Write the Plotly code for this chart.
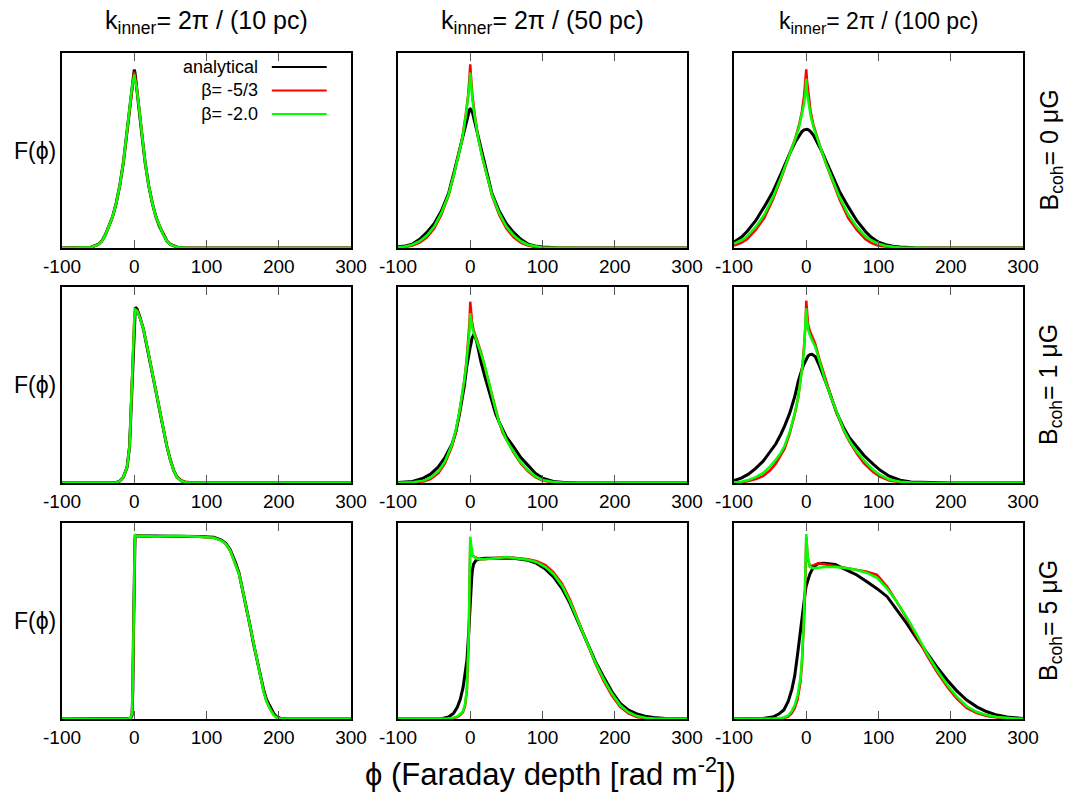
import plotly.graph_objects as go
from plotly.subplots import make_subplots

# Faraday-depth spectra F(phi), normalised to each panel's height.
# Columns: outer scale of turbulence; rows: coherent field strength.
col_titles = ["k<sub>inner</sub>= 2π / (10 pc)",
              "k<sub>inner</sub>= 2π / (50 pc)",
              "k<sub>inner</sub>= 2π / (100 pc)"]
row_titles = ["B<sub>coh</sub>= 0 μG",
              "B<sub>coh</sub>= 1 μG",
              "B<sub>coh</sub>= 5 μG"]
series_names = ["analytical", "β= -5/3", "β= -2.0"]
tick_values = [-100, 0, 100, 200, 300]
tick_labels = ["-100", "0", "100", "200", "300"]

# ---- B_coh = 0, k_inner = 2pi/10pc
phi_r1c1 = [-100, -70, -60, -50, -45, -40, -35, -30, -25, -20, -15, -10, -6, -3, -1, 0,
            1, 3, 6, 10, 15, 20, 25, 30, 35, 40, 45, 50, 60, 70, 100, 300]
ana_r1c1 = [0, .001, .004, .018, .035, .068, .11, .16, .23, .32, .44, .60, .74, .84, .90, .915,
            .90, .84, .74, .60, .44, .32, .23, .16, .11, .07, .037, .018, .004, .001, 0, 0]
b53_r1c1 = [0, .001, .004, .018, .035, .068, .11, .16, .23, .32, .44, .60, .74, .835, .88, .905,
            .88, .835, .74, .60, .44, .32, .23, .16, .11, .07, .037, .018, .004, .001, 0, 0]
b20_r1c1 = [0, .001, .004, .017, .034, .067, .11, .16, .23, .32, .44, .60, .74, .83, .865, .89,
            .865, .83, .74, .60, .44, .32, .23, .16, .11, .069, .036, .017, .004, .001, 0, 0]

# ---- B_coh = 0, k_inner = 2pi/50pc
phi_r1c2 = [-100, -90, -80, -70, -60, -50, -40, -30, -23, -17, -11, -6, -3, -1, 0,
            1, 3, 6, 11, 17, 23, 30, 40, 50, 60, 70, 80, 90, 100, 120, 150, 300]
ana_r1c2 = [.006, .01, .02, .045, .08, .125, .19, .28, .38, .47, .56, .65, .695, .71, .713,
            .71, .695, .65, .56, .47, .38, .28, .19, .125, .08, .045, .02, .01, .005, .001, 0, 0]
b53_r1c2 = [.002, .005, .012, .028, .055, .10, .17, .27, .37, .46, .565, .69, .78, .88, .942,
            .88, .78, .69, .565, .46, .37, .27, .17, .10, .055, .028, .012, .005, .002, 0, 0, 0]
b20_r1c2 = [.004, .008, .017, .035, .065, .11, .18, .275, .37, .46, .56, .68, .76, .84, .90,
            .84, .76, .68, .56, .46, .37, .275, .18, .11, .065, .035, .017, .008, .003, .001, 0, 0]

# ---- B_coh = 0, k_inner = 2pi/100pc
phi_r1c3 = [-100, -90, -82, -70, -58, -46, -35, -27, -21, -15, -10, -6, -3, -1, 0,
            1, 3, 6, 10, 15, 21, 27, 35, 46, 58, 70, 82, 90, 100, 110, 120, 130, 150, 170, 300]
ana_r1c3 = [.03, .055, .085, .14, .212, .29, .38, .45, .50, .545, .578, .597, .606, .609, .609,
            .609, .606, .597, .578, .545, .50, .45, .38, .29, .212, .14, .085, .055, .03, .017,
            .009, .005, .001, 0, 0]
b53_r1c3 = [.012, .026, .045, .092, .155, .25, .355, .435, .50, .565, .63, .70, .78, .86, .916,
            .86, .78, .70, .63, .565, .50, .435, .355, .25, .155, .092, .045, .026, .012, .006,
            .003, .001, 0, 0, 0]
b20_r1c3 = [.022, .04, .06, .108, .172, .262, .362, .438, .50, .56, .62, .68, .74, .80, .867,
            .80, .74, .68, .62, .56, .50, .438, .362, .262, .172, .108, .06, .04, .022, .012,
            .006, .003, .001, 0, 0]

# ---- B_coh = 1, k_inner = 2pi/10pc
phi_r2c1 = [-100, -30, -24, -20, -15, -10, -6.5, -4.8, -3.2, -1.5, 0, 1.5, 4, 8, 13, 17, 22,
            27, 31.5, 36, 40.5, 45, 50, 55, 59, 65, 70, 80, 100, 300]
ana_r2c1 = [0, 0, .004, .01, .03, .08, .185, .35, .525, .70, .84, .896, .887, .845, .78, .71,
            .615, .525, .44, .355, .27, .19, .117, .06, .032, .012, .005, .001, 0, 0]
b53_r2c1 = [0, 0, .004, .01, .03, .08, .185, .35, .525, .70, .835, .886, .88, .843, .78, .71,
            .615, .525, .44, .355, .27, .19, .117, .06, .032, .012, .005, .001, 0, 0]
b20_r2c1 = [0, 0, .004, .01, .03, .08, .185, .35, .525, .70, .83, .884, .878, .841, .78, .71,
            .615, .525, .44, .355, .27, .19, .116, .059, .031, .011, .004, .001, 0, 0]

# ---- B_coh = 1, k_inner = 2pi/50pc
phi_r2c2 = [-100, -80, -65, -55, -44, -35, -25, -20, -15, -11, -8, -5, -3, -1, 0, 1, 2.5, 4.6,
            7, 9, 12, 15, 20, 25, 30, 35, 40, 45, 50, 60, 70, 80, 90, 100, 115, 130, 150, 300]
ana_r2c2 = [.002, .008, .025, .045, .083, .13, .20, .26, .35, .43, .50, .59, .64, .68, .695, .71,
            .74, .755, .745, .72, .665, .615, .545, .48, .415, .355, .31, .27, .235, .185, .13,
            .09, .05, .025, .008, .002, 0, 0]
b53_r2c2 = [0, .002, .008, .02, .05, .10, .19, .26, .36, .45, .53, .63, .71, .82, .925, .87,
            .82, .78, .75, .73, .70, .665, .595, .515, .445, .375, .31, .255, .22, .155, .10,
            .06, .03, .012, .003, 0, 0, 0]
b20_r2c2 = [.001, .004, .012, .027, .06, .11, .20, .27, .365, .45, .53, .62, .69, .78, .866,
            .83, .80, .77, .745, .725, .695, .66, .60, .52, .445, .375, .31, .26, .22, .16,
            .105, .065, .035, .015, .005, .001, 0, 0]

# ---- B_coh = 1, k_inner = 2pi/100pc
phi_r2c3 = [-100, -90, -80, -70, -60, -50, -42, -35, -30, -23, -16, -11, -8, -5, -2.8, -1, 0,
            1, 2.5, 5, 6.5, 8, 12.5, 18, 26, 34, 42.5, 52, 60, 70, 80, 93, 102, 115, 130, 145,
            170, 200, 300]
ana_r2c3 = [.012, .025, .045, .075, .11, .16, .20, .25, .29, .355, .44, .52, .56, .59, .61,
            .625, .632, .64, .648, .655, .658, .657, .645, .60, .525, .44, .355, .28, .23, .185,
            .14, .095, .066, .035, .014, .005, .001, 0, 0]
b53_r2c3 = [.001, .003, .01, .02, .035, .065, .10, .14, .175, .25, .35, .44, .525, .61, .71,
            .81, .93, .86, .81, .775, .76, .748, .71, .635, .535, .445, .355, .265, .21, .15,
            .10, .055, .033, .013, .004, .001, 0, 0, 0]
b20_r2c3 = [.003, .006, .015, .03, .05, .085, .12, .155, .19, .26, .355, .44, .525, .60, .695,
            .79, .891, .83, .785, .755, .74, .728, .695, .62, .525, .44, .355, .27, .215, .16,
            .115, .066, .042, .018, .006, .002, 0, 0, 0]

# ---- B_coh = 5, k_inner = 2pi/10pc
phi_r3c1 = [-100, -10, -5, -3, -2, -1, 0, 1, 2, 10, 30, 60, 90, 110, 120, 127, 133, 140, 145,
            151, 156, 160.6, 165, 169.8, 174, 179, 183, 188, 193, 197, 202, 210, 300]
ana_r3c1 = [0, 0, .003, .02, .15, .45, .78, .92, .935, .935, .934, .933, .931, .927, .914, .895,
            .862, .80, .745, .645, .555, .47, .385, .30, .225, .15, .10, .06, .028, .012, .004,
            0, 0]
b53_r3c1 = [0, 0, .004, .03, .18, .50, .82, .94, .935, .933, .932, .933, .93, .925, .912, .892,
            .858, .795, .74, .64, .55, .465, .38, .295, .218, .142, .092, .052, .022, .008, .002,
            0, 0]
b20_r3c1 = [0, 0, .005, .03, .20, .52, .84, .945, .932, .935, .931, .935, .93, .925, .912, .892,
            .858, .795, .74, .64, .55, .465, .38, .293, .215, .14, .09, .05, .02, .007, .002,
            0, 0]

# ---- B_coh = 5, k_inner = 2pi/50pc
phi_r3c2 = [-100, -40, -30, -23, -18, -13.8, -10, -7, -4.6, -2, -1, 0, 1, 2, 3, 4.6, 8, 11.5,
            15, 20, 30, 40, 50, 60, 70, 80, 92, 104, 115, 127, 138, 150, 161.5, 173, 184.5, 196,
            207.6, 219, 230.7, 242, 253.8, 270, 300]
ana_r3c2 = [0, .001, .01, .03, .06, .10, .16, .23, .30, .45, .53, .60, .66, .72, .76, .79, .81,
            .815, .818, .82, .82, .822, .822, .82, .815, .81, .794, .765, .726, .665, .59, .49,
            .386, .295, .216, .14, .08, .045, .026, .014, .008, .003, 0]
b53_r3c2 = [0, 0, .002, .005, .01, .02, .035, .07, .15, .42, .65, .91, .87, .85, .835, .83,
            .822, .818, .815, .815, .82, .824, .825, .823, .82, .815, .805, .785, .75, .69, .61,
            .50, .39, .285, .195, .12, .062, .028, .01, .004, .002, .001, 0]
b20_r3c2 = [0, 0, .003, .007, .013, .025, .04, .08, .16, .45, .70, .93, .90, .86, .84, .83,
            .82, .815, .815, .816, .818, .822, .826, .822, .818, .812, .80, .775, .74, .68, .60,
            .495, .39, .29, .205, .13, .07, .035, .015, .006, .003, .001, 0]

# ---- B_coh = 5, k_inner = 2pi/100pc
phi_r3c3 = [-100, -60, -45, -38, -31, -25, -20, -16, -12, -8, -6, -4, -2, -1, 0, 2, 5, 10, 17,
            25, 40, 56, 70, 84, 98, 112, 125, 139, 153, 167, 181, 195, 208, 222, 236, 250, 264,
            278, 290, 300]
ana_r3c3 = [0, .003, .012, .025, .046, .09, .15, .22, .33, .45, .52, .595, .64, .66, .68, .71,
            .74, .775, .794, .795, .788, .76, .735, .70, .665, .624, .56, .488, .41, .335, .265,
            .199, .145, .097, .062, .037, .02, .01, .005, .003]
b53_r3c3 = [0, 0, .001, .002, .005, .012, .03, .055, .10, .19, .28, .42, .60, .75, .93, .82,
            .78, .785, .795, .79, .78, .77, .762, .752, .735, .675, .60, .515, .42, .325, .24,
            .165, .105, .056, .03, .015, .007, .003, .001, 0]
b20_r3c3 = [0, 0, .002, .004, .008, .018, .04, .07, .12, .21, .30, .44, .62, .77, .944, .83,
            .775, .769, .772, .776, .776, .77, .76, .745, .72, .665, .60, .52, .43, .335, .25,
            .175, .115, .065, .037, .02, .01, .004, .002, .001]

panels = [
    [(phi_r1c1, ana_r1c1, b53_r1c1, b20_r1c1),
     (phi_r1c2, ana_r1c2, b53_r1c2, b20_r1c2),
     (phi_r1c3, ana_r1c3, b53_r1c3, b20_r1c3)],
    [(phi_r2c1, ana_r2c1, b53_r2c1, b20_r2c1),
     (phi_r2c2, ana_r2c2, b53_r2c2, b20_r2c2),
     (phi_r2c3, ana_r2c3, b53_r2c3, b20_r2c3)],
    [(phi_r3c1, ana_r3c1, b53_r3c1, b20_r3c1),
     (phi_r3c2, ana_r3c2, b53_r3c2, b20_r3c2),
     (phi_r3c3, ana_r3c3, b53_r3c3, b20_r3c3)],
]

colors = ["#000000", "#ff0000", "#00ff00"]
widths = [3, 2.5, 2.5]

W, H = 1071, 798
FONT = "Liberation Sans, Arial, Helvetica, sans-serif"
PHI = "\u03d5"

# panel frames in pixels (left, right) and (top, bottom)
col_px = [(62, 351), (398, 687), (734, 1023)]
row_px = [(53, 248), (287, 483), (523, 719)]

fig = make_subplots(rows=3, cols=3)

for r in range(3):
    for c in range(3):
        phi, *curves = panels[r][c]
        for k, vals in enumerate(curves):
            fig.add_trace(
                go.Scatter(x=phi, y=vals, mode="lines", name=series_names[k],
                           line=dict(color=colors[k], width=widths[k]),
                           showlegend=False, hoverinfo="skip"),
                row=r + 1, col=c + 1)

for r in range(3):
    for c in range(3):
        n = r * 3 + c + 1
        sfx = "" if n == 1 else str(n)
        x0, x1 = col_px[c]
        t0, t1 = row_px[r]
        fig.layout["xaxis" + sfx].update(
            domain=[x0 / W, x1 / W], range=[-100, 300],
            tickmode="array", tickvals=tick_values, ticktext=tick_labels,
            ticks="inside", ticklen=8, tickwidth=1, tickcolor="#555555",
            showline=True, linecolor="black", linewidth=2, mirror="ticks",
            showgrid=False, zeroline=False, automargin=False,
            tickfont=dict(family=FONT, size=19, color="black"))
        fig.layout["yaxis" + sfx].update(
            domain=[1 - t1 / H, 1 - t0 / H], range=[0, 1],
            showticklabels=False, ticks="", showline=True, linecolor="black",
            linewidth=2, mirror=True, showgrid=False, zeroline=False, automargin=False)

annotations = []
title_sizes = [25, 25, 23]
for c in range(3):
    annotations.append(dict(
        text=col_titles[c], xref="x%s domain" % ("" if c == 0 else c + 1), x=0.5,
        yref="paper", y=1 - 22 / H, showarrow=False, xanchor="center", yanchor="middle",
        font=dict(family=FONT, size=title_sizes[c], color="black")))
for r in range(3):
    yc = 1 - (row_px[r][0] + row_px[r][1]) / 2 / H
    annotations.append(dict(
        text=row_titles[r], xref="paper", x=1050 / W, yref="paper", y=yc,
        showarrow=False, textangle=-90, xanchor="center", yanchor="middle",
        font=dict(family=FONT, size=25, color="black")))
    annotations.append(dict(
        text="F(" + PHI + ")", xref="paper", x=35 / W, yref="paper", y=yc,
        showarrow=False, xanchor="center", yanchor="middle",
        font=dict(family=FONT, size=23, color="black")))
annotations.append(dict(
    text=PHI + " (Faraday depth [rad m<sup>-2</sup>])", xref="paper", x=550 / W,
    yref="paper", y=1 - 772 / H, showarrow=False, xanchor="center", yanchor="middle",
    font=dict(family=FONT, size=31, color="black")))

# key in the first panel: right-aligned labels, line samples to their right
KEY_SIZE = 18
key_mid_px = 90.5
key_step_px = 1.3 * KEY_SIZE
top0, bot0 = row_px[0]
annotations.append(dict(
    text="<br>".join(series_names), xref="x domain", x=0.685,
    yref="y domain", y=(bot0 - key_mid_px) / (bot0 - top0),
    showarrow=False, xanchor="right", yanchor="middle", align="right",
    font=dict(family=FONT, size=KEY_SIZE, color="black")))
shapes = []
for k in range(3):
    yk = (bot0 - (key_mid_px + (k - 1) * key_step_px)) / (bot0 - top0)
    shapes.append(dict(
        type="line", xref="x domain", yref="y domain", x0=0.726, x1=0.916,
        y0=yk, y1=yk, line=dict(color=colors[k], width=2)))

fig.update_layout(
    width=W, height=H, margin=dict(l=0, r=0, t=0, b=0, autoexpand=False),
    paper_bgcolor="white", plot_bgcolor="white",
    annotations=annotations, shapes=shapes, showlegend=False)

fig.write_html("out.html")
